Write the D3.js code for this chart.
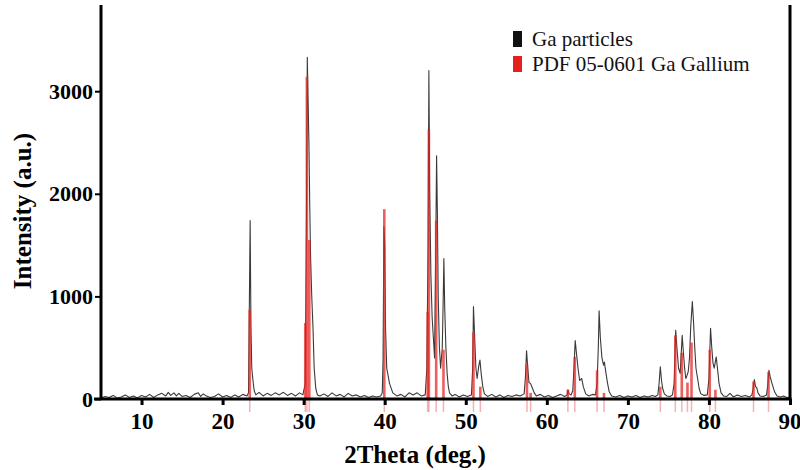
<!DOCTYPE html>
<html>
<head>
<meta charset="utf-8">
<script src="https://cdn.jsdelivr.net/npm/d3@7"></script>
<style>
  body { margin: 0; background: #fff; }
</style>
</head>
<body>
<div id="chart"></div>
<script>
// XRD pattern of Ga particles vs PDF 05-0601 reference

const xTicks = [10, 20, 30, 40, 50, 60, 70, 80, 90];
const yTicks = [0, 1000, 2000, 3000];

// measured trace (2theta, counts)
const traceTheta = [
  5, 5.5, 6, 6.5, 7, 7.5, 8, 8.5, 9, 9.5, 10, 10.5, 11, 11.5, 12, 12.5, 13, 13.3, 13.6, 14, 14.3, 14.6, 15, 15.5, 16, 16.5, 17, 17.3, 17.6, 18, 18.5, 19, 19.5, 20, 20.5, 21, 21.5, 22, 22.5, 23,
  23.2, 23.3, 23.4, 23.5, 23.6, 23.75, 23.9, 24.1, 24.5, 25, 25.5, 26, 26.5, 27, 27.5, 28, 28.5, 29, 29.5, 29.9,
  30.2, 30.35, 30.45, 30.55, 30.65, 30.75, 30.85, 31.0, 31.15, 31.3, 31.5, 31.7, 32, 32.5, 33, 33.5, 34, 34.5, 35, 35.5, 36, 36.5, 37, 37.5, 38, 38.5, 39, 39.5,
  39.7, 39.8, 39.9, 40.0, 40.1, 40.25, 40.6, 41.0, 41.5, 42, 42.5, 43, 43.5, 44, 44.5, 45.0,
  45.2, 45.35, 45.45, 45.55, 45.7, 45.85, 46.0, 46.15, 46.3, 46.4, 46.5, 46.6, 46.75, 46.9, 47.1, 47.2, 47.3, 47.4, 47.55, 47.7, 47.85, 48.0, 48.3, 48.7, 49.2, 49.7, 50.2, 50.7,
  50.85, 50.95, 51.1, 51.25, 51.4, 51.6, 51.75, 51.9, 52.1, 52.3, 52.7, 53.2, 53.7, 54.2, 54.7, 55.2, 55.7, 56.2, 56.7, 57.2,
  57.35, 57.5, 57.65, 57.8, 58.0, 58.2, 58.45, 58.7, 59.2, 59.7, 60.2, 60.7, 61.2, 61.7, 62.2, 62.5, 62.6, 62.75, 63.0, 63.2,
  63.35, 63.5, 63.65, 63.85, 64.05, 64.3, 64.5, 64.8, 65.2, 65.6, 66.0, 66.2, 66.35, 66.45, 66.6, 66.8, 67.0, 67.1, 67.3, 67.5, 67.7, 68.0,
  68.5, 69, 69.5, 70, 70.5, 71, 71.5, 72, 72.5, 73, 73.4, 73.7, 73.85, 74.0, 74.15, 74.3, 74.5, 74.8, 75.2, 75.5,
  75.7, 75.9, 76.05, 76.25, 76.45, 76.55, 76.7, 76.85, 77.0, 77.15, 77.3, 77.45, 77.6, 77.75, 77.95, 78.1, 78.25, 78.4, 78.6, 78.8, 79.0, 79.4, 79.8,
  80.0, 80.2, 80.35, 80.5, 80.65, 80.9, 81.05, 81.25, 81.5, 81.8, 82.2, 82.6, 83.0, 83.5, 84, 84.5, 85.0, 85.3,
  85.45, 85.6, 85.75, 85.9, 86.05, 86.3, 86.7, 87.1, 87.25, 87.4, 87.55, 87.75, 87.9, 88.1, 88.4, 88.8, 89.2, 89.6, 90
];
const traceCounts = [
  10, 25, 15, 35, 10, 20, 40, 15, 30, 10, 35, 20, 45, 15, 40, 55, 30, 65, 35, 60, 30, 55, 25, 35, 15, 45, 60, 25, 50, 30, 15, 25, 50, 20, 35, 15, 40, 20, 45, 30,
  60, 900, 1740, 700, 300, 180, 80, 40, 65, 30, 55, 35, 60, 40, 65, 35, 55, 30, 60, 40,
  150, 1800, 3330, 2900, 2500, 1900, 1400, 1000, 700, 300, 100, 40, 30, 50, 25, 60, 30, 45, 20, 55, 30, 40, 20, 35, 15, 30, 20, 30,
  60, 400, 1680, 1500, 700, 300, 150, 60, 30, 45, 20, 60, 40, 60, 30, 40,
  300, 1500, 3200, 2000, 1200, 800, 600, 400, 1500, 2370, 1800, 1000, 500, 300, 500, 900, 1370, 900, 500, 250, 120, 60, 30, 45, 20, 40, 25, 40,
  300, 900, 600, 300, 200, 320, 380, 250, 120, 50, 25, 45, 20, 40, 15, 35, 25, 40, 30, 50,
  200, 470, 300, 160, 150, 110, 60, 30, 45, 20, 35, 15, 30, 45, 25, 40, 90, 50, 40, 80,
  300, 570, 450, 300, 180, 200, 120, 50, 30, 45, 40, 150, 500, 860, 600, 400, 330, 360, 250, 150, 70, 30,
  20, 35, 15, 30, 20, 35, 15, 30, 20, 35, 25, 40, 150, 315, 180, 100, 50, 30, 25, 40,
  150, 670, 500, 300, 250, 400, 620, 450, 300, 200, 230, 270, 400, 700, 950, 750, 500, 300, 200, 100, 50, 35, 40,
  200, 690, 500, 350, 300, 410, 300, 150, 60, 30, 25, 55, 20, 40, 25, 35, 20, 40,
  100, 190, 120, 110, 60, 30, 25, 40, 130, 280, 220, 160, 120, 70, 30, 20, 30, 15, 20
];

// reference pattern PDF 05-0601 Ga (stick positions and heights)
const pdfTheta = [23.35, 30.2, 30.4, 30.7, 39.95, 45.3, 45.45, 46.35, 47.25, 50.95, 51.8, 57.55, 58.0, 62.6, 63.45, 66.2, 67.05, 74.0, 75.85, 76.65, 77.35, 77.85, 80.1, 80.8, 85.5, 87.35];
const pdfIntensity = [870, 740, 3140, 1550, 1850, 850, 2630, 1740, 480, 650, 120, 340, 60, 90, 410, 280, 60, 120, 620, 450, 160, 550, 480, 90, 170, 265];

const legendLabels = ['Ga particles', 'PDF 05-0601 Ga Gallium'];
const legendColors = ['#111111', '#e3211f'];

const width = 800;
const height = 470;
const serif = '"Liberation Serif", "Times New Roman", "DejaVu Serif", serif';

const svg = d3.select('#chart')
  .append('svg')
  .attr('width', width)
  .attr('height', height)
  .style('font-family', serif);

const x = d3.scaleLinear().domain([5, 90]).range([101, 790]);
const y = d3.scaleLinear().domain([0, 3840]).range([399, 5]);

// measured pattern
const line = d3.line()
  .x((d, i) => x(traceTheta[i]))
  .y((d, i) => y(traceCounts[i]));

svg.append('path')
  .datum(traceCounts)
  .attr('d', line)
  .attr('fill', 'none')
  .attr('stroke', '#3a3a3a')
  .attr('stroke-width', 1.1)
  .attr('stroke-linejoin', 'round');

// reference sticks, they poke a bit under the axis
const sticks = svg.append('g');
sticks.selectAll('line.stub')
  .data(pdfTheta)
  .enter()
  .append('line')
  .attr('class', 'stub')
  .attr('x1', d => x(d))
  .attr('x2', d => x(d))
  .attr('y1', y(0))
  .attr('y2', y(0) + 13)
  .attr('stroke', '#e3211f')
  .attr('stroke-opacity', 0.35)
  .attr('stroke-width', 1.5);

sticks.selectAll('line.stick')
  .data(pdfTheta)
  .enter()
  .append('line')
  .attr('class', 'stick')
  .attr('x1', d => x(d))
  .attr('x2', d => x(d))
  .attr('y1', y(0))
  .attr('y2', (d, i) => y(pdfIntensity[i]))
  .attr('stroke', '#e3211f')
  .attr('stroke-opacity', 0.72)
  .attr('stroke-width', 2.6);

// axes
const xAxis = svg.append('g')
  .attr('transform', `translate(0,${y(0)})`)
  .call(d3.axisBottom(x).tickValues(xTicks).tickSize(6).tickPadding(8).tickSizeOuter(0));
xAxis.attr('font-family', null);
xAxis.select('.domain').remove();
xAxis.selectAll('.tick line').attr('stroke', '#000').attr('stroke-width', 3);
xAxis.selectAll('.tick text')
  .attr('fill', '#000')
  .style('font-family', serif)
  .style('font-size', '23px')
  .style('font-weight', 'bold');
// last label sits inside the frame in the original
xAxis.selectAll('.tick text')
  .filter(d => d === 90)
  .attr('text-anchor', 'end')
  .attr('dx', 11);

const yAxis = svg.append('g')
  .attr('transform', `translate(${x(5)},0)`)
  .call(d3.axisLeft(y).tickValues(yTicks).tickFormat(d3.format('d')).tickSize(6).tickPadding(2).tickSizeOuter(0));
yAxis.attr('font-family', null);
yAxis.select('.domain').remove();
yAxis.selectAll('.tick line').attr('stroke', '#000').attr('stroke-width', 2);
yAxis.selectAll('.tick text')
  .attr('fill', '#000')
  .style('font-family', serif)
  .style('font-size', '22px')
  .style('font-weight', 'bold');

const frame = svg.append('g').attr('stroke', '#000').attr('stroke-width', 3);
frame.append('line')
  .attr('x1', x(5) - 7).attr('x2', x(90) + 1.5)
  .attr('y1', y(0)).attr('y2', y(0));
frame.append('line')
  .attr('x1', x(5)).attr('x2', x(5))
  .attr('y1', y(0)).attr('y2', y.range()[1]);
frame.append('line')
  .attr('x1', x(90)).attr('x2', x(90))
  .attr('y1', y(0)).attr('y2', y.range()[1]);

// axis titles
svg.append('text')
  .attr('x', 415)
  .attr('y', 463)
  .attr('text-anchor', 'middle')
  .style('font-family', serif)
  .style('font-size', '25px')
  .style('font-weight', 'bold')
  .text('2Theta (deg.)');

svg.append('text')
  .attr('transform', 'translate(31,211) rotate(-90)')
  .attr('text-anchor', 'middle')
  .style('font-family', serif)
  .style('font-size', '25px')
  .style('font-weight', 'bold')
  .text('Intensity (a.u.)');

// legend
const legend = svg.append('g').attr('transform', 'translate(513,31)');
legend.selectAll('rect')
  .data(legendLabels)
  .enter()
  .append('rect')
  .attr('x', 0)
  .attr('y', (d, i) => i * 25)
  .attr('width', 9)
  .attr('height', 16)
  .attr('fill', (d, i) => legendColors[i]);
legend.selectAll('text')
  .data(legendLabels)
  .enter()
  .append('text')
  .attr('x', 19)
  .attr('y', (d, i) => i * 25 + 15)
  .style('font-family', serif)
  .style('font-size', '21px')
  .attr('fill', '#111')
  .text(d => d);
</script>
</body>
</html>
